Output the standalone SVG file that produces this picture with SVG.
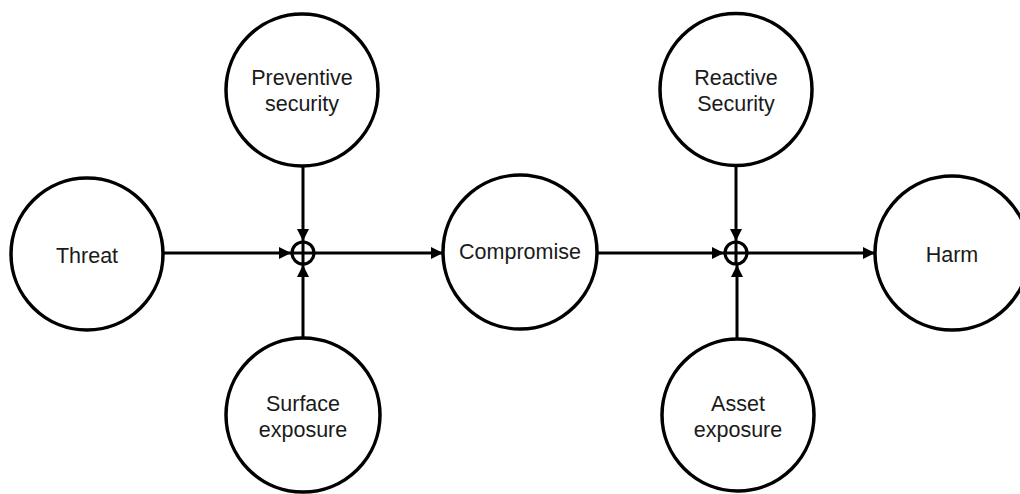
<svg xmlns="http://www.w3.org/2000/svg" width="1020" height="494" viewBox="0 0 1020 494">
<style>
.node{fill:#fff;stroke:#000;stroke-width:3.5}
.lbl{font-family:"Liberation Sans",Arial,sans-serif;font-size:21.5px;fill:#1a1a1a;text-anchor:middle}
.edge{stroke:#000;stroke-width:3;fill:none}
.sum{fill:#fff;stroke:#000;stroke-width:3.2}
</style>
<defs>
<marker id="arr" viewBox="0 0 12 12" refX="12" refY="6" markerWidth="12" markerHeight="12" markerUnits="userSpaceOnUse" orient="auto">
<path d="M0,0 L12,6 L0,12 Z" fill="#000"/>
</marker>
</defs>
<g id="connectors">
<line class="edge" x1="164" y1="253" x2="291" y2="253" marker-end="url(#arr)"/>
<line class="edge" x1="303" y1="167" x2="303" y2="241" marker-end="url(#arr)"/>
<line class="edge" x1="303" y1="338" x2="303" y2="265" marker-end="url(#arr)"/>
<line class="edge" x1="315" y1="253" x2="443" y2="253" marker-end="url(#arr)"/>
<line class="edge" x1="597" y1="253" x2="724" y2="253" marker-end="url(#arr)"/>
<line class="edge" x1="736" y1="167" x2="736" y2="241" marker-end="url(#arr)"/>
<line class="edge" x1="737" y1="338" x2="737" y2="265" marker-end="url(#arr)"/>
<line class="edge" x1="748" y1="253" x2="875" y2="253" marker-end="url(#arr)"/>
</g>
<g id="sum1">
<circle class="sum" cx="303" cy="253" r="11"/>
<line class="edge" x1="292" y1="253" x2="314" y2="253"/>
<line class="edge" x1="303" y1="242" x2="303" y2="264"/>
</g>
<g id="sum2">
<circle class="sum" cx="736" cy="253" r="11"/>
<line class="edge" x1="725" y1="253" x2="747" y2="253"/>
<line class="edge" x1="736" y1="242" x2="736" y2="264"/>
</g>
<g id="threat">
<circle class="node" cx="87" cy="254" r="76"/>
<text class="lbl" x="87" y="263">Threat</text>
</g>
<g id="preventive">
<circle class="node" cx="302" cy="90" r="76"/>
<text class="lbl" x="302" y="85">Preventive</text>
<text class="lbl" x="302" y="111">security</text>
</g>
<g id="surface">
<circle class="node" cx="303" cy="415" r="77"/>
<text class="lbl" x="303" y="411">Surface</text>
<text class="lbl" x="303" y="437">exposure</text>
</g>
<g id="compromise">
<circle class="node" cx="520" cy="252" r="77"/>
<text class="lbl" x="520" y="259">Compromise</text>
</g>
<g id="reactive">
<circle class="node" cx="736" cy="89.5" r="76"/>
<text class="lbl" x="736" y="85">Reactive</text>
<text class="lbl" x="736" y="111">Security</text>
</g>
<g id="asset">
<circle class="node" cx="738" cy="415" r="76"/>
<text class="lbl" x="738" y="411">Asset</text>
<text class="lbl" x="738" y="437">exposure</text>
</g>
<g id="harm">
<circle class="node" cx="952" cy="253" r="77"/>
<text class="lbl" x="952" y="262">Harm</text>
</g>
</svg>
